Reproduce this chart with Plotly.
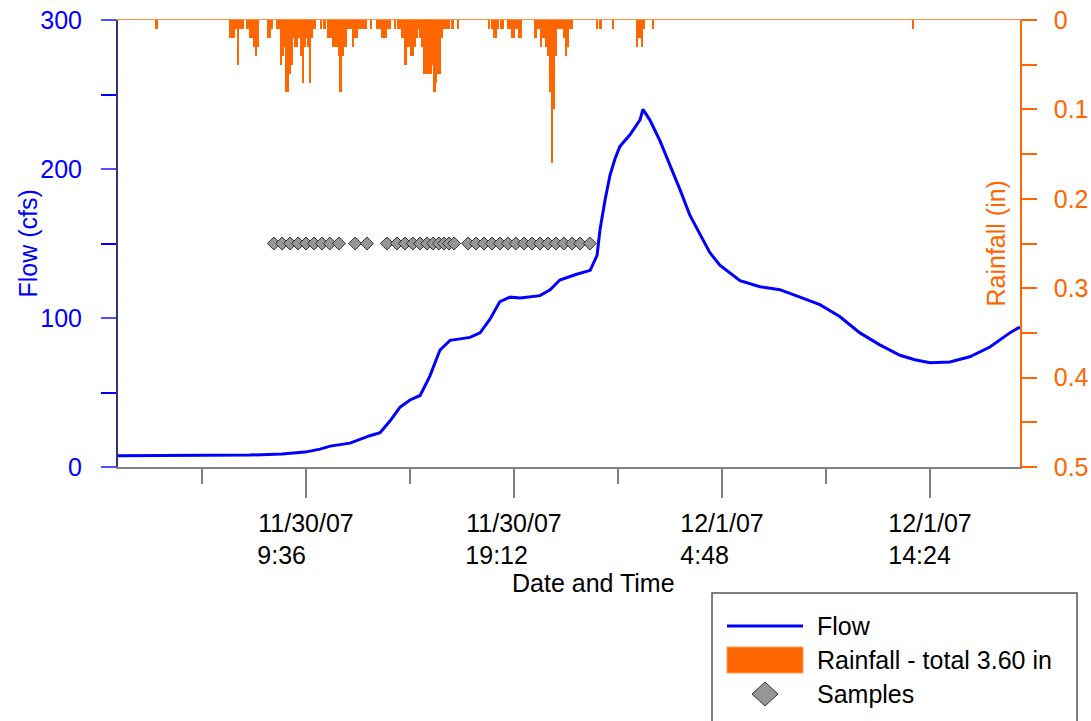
import pandas as pd
import plotly.graph_objects as go

# ---------------- data ----------------
flow_time = [
    "2007-11-30 00:55", "2007-11-30 03:00", "2007-11-30 05:00", "2007-11-30 07:00",
    "2007-11-30 08:30", "2007-11-30 09:33", "2007-11-30 10:15", "2007-11-30 10:43",
    "2007-11-30 11:38", "2007-11-30 12:10", "2007-11-30 12:33", "2007-11-30 13:01",
    "2007-11-30 13:29", "2007-11-30 13:56", "2007-11-30 14:24", "2007-11-30 14:52",
    "2007-11-30 15:19", "2007-11-30 15:47", "2007-11-30 16:15", "2007-11-30 16:43",
    "2007-11-30 17:10", "2007-11-30 17:38", "2007-11-30 18:05", "2007-11-30 18:33",
    "2007-11-30 19:01", "2007-11-30 19:29", "2007-11-30 20:24", "2007-11-30 20:52",
    "2007-11-30 21:19", "2007-11-30 22:01", "2007-11-30 22:43", "2007-11-30 23:02",
    "2007-11-30 23:10", "2007-11-30 23:24", "2007-11-30 23:38", "2007-11-30 23:52",
    "2007-12-01 00:05", "2007-12-01 00:33", "2007-12-01 01:01", "2007-12-01 01:09",
    "2007-12-01 01:28", "2007-12-01 01:56", "2007-12-01 02:24", "2007-12-01 02:52",
    "2007-12-01 03:19", "2007-12-01 03:47", "2007-12-01 04:14", "2007-12-01 04:42",
    "2007-12-01 05:38", "2007-12-01 06:33", "2007-12-01 07:28", "2007-12-01 08:24",
    "2007-12-01 09:19", "2007-12-01 10:14", "2007-12-01 11:10", "2007-12-01 12:05",
    "2007-12-01 13:01", "2007-12-01 13:42", "2007-12-01 14:24", "2007-12-01 15:19",
    "2007-12-01 16:14", "2007-12-01 17:10", "2007-12-01 18:05", "2007-12-01 18:33",
]
flow_cfs = [
    7.5, 7.6, 7.8, 8.0,
    8.8, 10.0, 12.0, 14.0,
    16.0, 19.0, 21.0, 23.0,
    31.0, 40.0, 45.0, 48.0,
    61.0, 78.5, 85.0, 86.0,
    87.0, 90.0, 99.0, 111.0,
    114.0, 113.4, 115.0, 119.0,
    125.5, 129.0, 132.0, 142.0,
    159.0, 179.0, 196.0, 207.0,
    215.0, 223.0, 233.0, 240.0,
    233.0, 219.0, 203.0, 186.0,
    169.0, 156.0, 144.0, 135.5,
    125.0, 121.0, 119.0, 114.0,
    109.0, 101.0, 90.0, 82.0,
    75.0, 72.0, 70.0, 70.5,
    74.0, 80.5, 90.0, 94.0,
]

# 5-minute rainfall (hundredths of an inch) starting at rain_start
rain_start = "2007-11-30 06:00"
rain_hundredths = [
    0, 2, 2, 2, 1, 5, 1, 1, 1, 0, 1, 1,
    2, 2, 3, 4, 3, 0, 0, 0, 0, 0, 2, 2,
    1, 0, 0, 1, 1, 5, 4, 3, 8, 8, 6, 5,
    2, 3, 3, 2, 4, 7, 3, 2, 3, 7, 2, 1,
    1, 0, 0, 1, 0, 1, 0, 2, 2, 2, 3, 3,
    3, 4, 8, 4, 3, 3, 1, 1, 1, 3, 2, 2,
    1, 1, 1, 1, 1, 0, 0, 1, 0, 0, 1, 1,
    1, 2, 2, 2, 1, 1, 0, 0, 1, 0, 1, 1,
    2, 2, 5, 3, 3, 4, 4, 3, 2, 1, 2, 3,
    6, 6, 6, 6, 6, 5, 8, 7, 6, 6, 2, 1,
    1, 1, 1, 0, 1, 0, 0, 1, 0, 0, 0, 0,
    0, 0, 0, 0, 0, 0, 0, 0, 0, 0, 0, 0,
    1, 0, 1, 2, 2, 1, 0, 1, 1, 0, 0, 1,
    1, 2, 2, 1, 1, 2, 2, 0, 0, 0, 0, 0,
    0, 0, 2, 1, 1, 3, 2, 2, 3, 4, 8, 16,
    10, 4, 1, 1, 1, 1, 2, 4, 3, 1, 1, 0,
    0, 0, 0, 0, 0, 0, 0, 0, 0, 0, 0, 0,
    1, 0, 1, 0, 0, 0, 0, 0, 0, 1, 0, 0,
    0, 0, 0, 0, 0, 0, 0, 0, 0, 0, 3, 2,
    2, 3, 1, 0, 0, 0, 0, 1,
]
rain_extra_time = ["2007-11-30 02:40", "2007-12-01 13:35"]
rain_extra_hundredths = [1, 1]

sample_time = [
    "2007-11-30 08:07", "2007-11-30 08:30", "2007-11-30 08:52", "2007-11-30 09:14",
    "2007-11-30 09:36", "2007-11-30 09:58", "2007-11-30 10:20", "2007-11-30 10:42",
    "2007-11-30 11:07", "2007-11-30 11:52", "2007-11-30 12:25",
    "2007-11-30 13:20", "2007-11-30 13:48", "2007-11-30 14:10", "2007-11-30 14:32",
    "2007-11-30 14:52", "2007-11-30 15:11", "2007-11-30 15:28", "2007-11-30 15:44",
    "2007-11-30 15:58", "2007-11-30 16:12", "2007-11-30 16:26",
    "2007-11-30 17:05", "2007-11-30 17:27", "2007-11-30 17:49", "2007-11-30 18:11",
    "2007-11-30 18:33", "2007-11-30 18:55", "2007-11-30 19:17", "2007-11-30 19:40",
    "2007-11-30 20:02", "2007-11-30 20:24", "2007-11-30 20:46", "2007-11-30 21:08",
    "2007-11-30 21:30", "2007-11-30 21:53", "2007-11-30 22:15", "2007-11-30 22:42",
]
sample_level_cfs = 150

x_range = ["2007-11-30 00:55:23", "2007-12-01 18:33:14"]
major_ticks = ["2007-11-30 09:36", "2007-11-30 19:12", "2007-12-01 04:48", "2007-12-01 14:24"]
minor_ticks = ["2007-11-30 04:48", "2007-11-30 14:24", "2007-12-01 00:00", "2007-12-01 09:36"]
tick_dates = ["11/30/07", "11/30/07", "12/1/07", "12/1/07"]
tick_times = ["9:36", "19:12", "4:48", "14:24"]
tick_pad = [7, 5, 5, 3]

# ---------------- derived ----------------
rain_time = list(pd.date_range(rain_start, periods=len(rain_hundredths), freq="5min")) + \
    [pd.Timestamp(t) for t in rain_extra_time]
rain_in = [v * 0.01 for v in rain_hundredths + rain_extra_hundredths]
tick_text = [f"{d}<br>{t}" + "\u00a0" * p for d, t, p in zip(tick_dates, tick_times, tick_pad)]

FONT = "Liberation Sans, Arial, sans-serif"
FS = 25
BLUE = "#0000FF"
ORANGE = "#FF6600"
GREY = "#808080"
W, H = 1091, 721
L, R, T, B = 118, 71, 20, 254
PW, PH = W - L - R, H - T - B


def px(xp):
    return (xp - L) / PW


def py(yp):
    return (T + PH - yp) / PH


fig = go.Figure()
fig.add_trace(go.Bar(
    x=rain_time, y=rain_in, xaxis="x2", yaxis="y2", width=300000, offset=0,
    marker=dict(color=ORANGE, line=dict(width=0)), name="Rainfall - total 3.60 in",
    showlegend=False,
))
fig.add_trace(go.Scatter(
    x=flow_time, y=flow_cfs, mode="lines", line=dict(color=BLUE, width=3),
    name="Flow", showlegend=False,
))
fig.add_trace(go.Scatter(
    x=sample_time, y=[sample_level_cfs] * len(sample_time), mode="markers",
    marker=dict(symbol="diamond", size=10, color="#969696", line=dict(color="#333333", width=1)),
    name="Samples", showlegend=False,
))

fig.update_layout(
    width=W, height=H, margin=dict(l=L, r=R, t=T, b=B, autoexpand=False),
    paper_bgcolor="white", plot_bgcolor="white",
    font=dict(family=FONT, size=FS, color="black"),
    bargap=0,
    xaxis=dict(
        type="date", range=x_range, tickmode="array", tickvals=major_ticks, ticktext=tick_text,
        ticks="outside", ticklen=29, tickwidth=1.5, tickcolor=GREY,
        showline=True, linecolor=GREY, linewidth=1.5, showgrid=False, zeroline=False,
        tickfont=dict(size=FS, color="black"), ticklabelstandoff=4, automargin=False,
        minor=dict(tickvals=minor_ticks, ticks="outside", ticklen=15, tickwidth=1.5, tickcolor=GREY),
        anchor="y",
    ),
    xaxis2=dict(
        type="date", overlaying="x", matches="x", side="top", anchor="y2",
        showline=True, linecolor="#FF8C40", linewidth=1, ticks="", showticklabels=False,
        showgrid=False, zeroline=False, automargin=False,
    ),
    yaxis=dict(
        range=[0, 300], tickmode="array", tickvals=[0, 100, 200, 300],
        ticks="outside", ticklen=15, tickwidth=1.5, tickcolor="#5050FF",
        showline=True, linecolor="#333377", linewidth=2, showgrid=False, zeroline=False,
        tickfont=dict(size=FS, color=BLUE), ticklabelstandoff=14, automargin=False,
        minor=dict(dtick=50, tick0=0, ticks="outside", ticklen=15, tickwidth=1.5, tickcolor=BLUE),
    ),
    yaxis2=dict(
        range=[0.5, 0], overlaying="y", side="right", anchor="x2",
        tickmode="array", tickvals=[0, 0.1, 0.2, 0.3, 0.4, 0.5],
        ticks="outside", ticklen=15, tickwidth=1.5, tickcolor=ORANGE,
        showline=True, linecolor=ORANGE, linewidth=1.5, showgrid=False, zeroline=False,
        tickfont=dict(size=FS, color=ORANGE), ticklabelstandoff=12, automargin=False,
        minor=dict(dtick=0.05, tick0=0, ticks="outside", ticklen=15, tickwidth=1.5, tickcolor=ORANGE),
    ),
)

annotations = [
    dict(text="Flow (cfs)", x=px(27), y=0.5, xref="paper", yref="paper", textangle=-90,
         showarrow=False, font=dict(size=FS, color=BLUE), xanchor="center", yanchor="middle"),
    dict(text="Rainfall (in)", x=px(995), y=0.5, xref="paper", yref="paper", textangle=-90,
         showarrow=False, font=dict(size=FS, color=ORANGE), xanchor="center", yanchor="middle"),
    dict(text="Date and Time", x=px(593), y=py(583), xref="paper", yref="paper",
         showarrow=False, font=dict(size=FS, color="black"), xanchor="center", yanchor="middle"),
]
legend_labels = ["Flow", "Rainfall - total 3.60 in", "Samples"]
legend_rows = [626, 660, 694]
for lab, yr in zip(legend_labels, legend_rows):
    annotations.append(dict(text=lab, x=px(815), y=py(yr), xref="paper", yref="paper",
                            showarrow=False, font=dict(size=FS, color="black"),
                            xanchor="left", yanchor="middle"))
fig.update_layout(annotations=annotations)

shapes = [
    dict(type="rect", xref="paper", yref="paper", x0=px(712), x1=px(1077), y0=py(593), y1=py(730),
         line=dict(color="#555555", width=1.5), fillcolor="white", layer="above"),
    dict(type="line", xref="paper", yref="paper", x0=px(727), x1=px(803), y0=py(626), y1=py(626),
         line=dict(color=BLUE, width=3)),
    dict(type="rect", xref="paper", yref="paper", x0=px(727), x1=px(803), y0=py(647), y1=py(673),
         line=dict(color="#FF9A5A", width=1), fillcolor=ORANGE),
    dict(type="path", xref="paper", yref="paper",
         path=f"M {px(752)},{py(694)} L {px(765)},{py(682)} L {px(778)},{py(694)} L {px(765)},{py(706)} Z",
         line=dict(color="#333333", width=1), fillcolor="#969696"),
]
fig.update_layout(shapes=shapes)

fig.write_html(
    "out.html",
    config={"displayModeBar": False},
    post_script="document.body.style.margin='0';document.body.style.overflow='hidden';",
)
